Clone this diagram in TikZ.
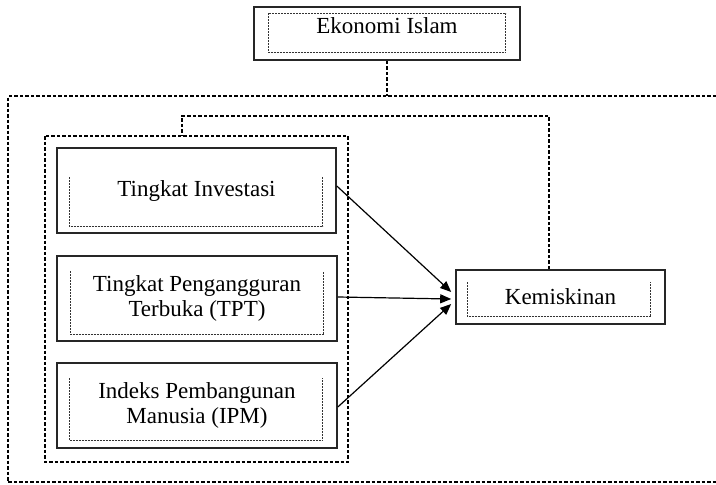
\documentclass[tikz,border=0pt]{standalone}
\usepackage{fontspec}
\setmainfont{Liberation Serif}
\usetikzlibrary{arrows.meta,calc}
\tikzset{
  solidbox/.style={draw=black!85,line width=1.6pt,rectangle,inner sep=0pt,align=center,font=\fontsize{23}{25.5}\selectfont},
  txt/.style={inner sep=0pt,font=\fontsize{23}{25.5}\selectfont},
  innerdash/.style={draw=black!80,line width=0.9pt,dash pattern=on 2pt off 1pt},
  groupdash/.style={draw=black,line width=1.4pt,dash pattern=on 3.5pt off 2pt},
  arr/.style={draw=black,line width=1.2pt,-{Triangle[length=11pt,width=9pt]}}
}
\begin{document}
\begin{tikzpicture}[x=1pt,y=-1pt]
\useasboundingbox (0,0) rectangle (716,485);
% boxes
\node[solidbox,minimum width=266pt,minimum height=53pt] (eko) at (387,33.5) {};
\node[txt,anchor=base] (ekot) at (387,33) {Ekonomi Islam};
\node[solidbox,minimum width=279pt,minimum height=85pt] (inv) at (196.5,190.5) {Tingkat Investasi};
\node[solidbox,minimum width=280pt,minimum height=85pt] (tpt) at (197,298.5) {Tingkat Pengangguran\\Terbuka (TPT)};
\node[solidbox,minimum width=280pt,minimum height=85pt] (ipm) at (197,405.5) {Indeks Pembangunan\\Manusia (IPM)};
\node[solidbox,minimum width=209pt,minimum height=54pt] (kem) at (560.5,297) {Kemiskinan};
% inner dashed frames
\draw[innerdash] ($(eko.north west)+(15,7)$) rectangle ($(eko.south east)+(-15,-8)$);
\draw[innerdash] ($(inv.north west)+(13,30)$) |- ($(inv.south east)+(-14,-7)$) -- ($(inv.north east)+(-14,30)$);
\draw[innerdash] ($(tpt.north west)+(14,16)$) |- ($(tpt.south east)+(-14,-7)$) -- ($(tpt.north east)+(-14,16)$);
\draw[innerdash] ($(ipm.north west)+(13,16)$) |- ($(ipm.south east)+(-15,-8)$) -- ($(ipm.north east)+(-15,16)$);
\draw[innerdash] ($(kem.north west)+(12,13)$) |- ($(kem.south east)+(-15,-8)$) -- ($(kem.north east)+(-15,13)$);
% group frames
\draw[groupdash] (45,136) rectangle (348,462);
\coordinate (gtop) at (182,136);
\coordinate (otop) at (387,96);
\draw[groupdash] (716,96) -- (8,96) -- (8,482) -- (716,482);
\draw[groupdash] (eko.south) -- (otop);
\draw[groupdash] (kem.north -| 549,0) |- (182,116) -- (gtop);
% arrows
\draw[arr] (inv.east |- 0,186) -- ($(kem.west)+(-4,-5)$);
\draw[arr] (tpt.east |- 0,297) -- ($(kem.west)+(-4,2)$);
\draw[arr] (ipm.east |- 0,407) -- ($(kem.west)+(-4,7)$);
\end{tikzpicture}
\end{document}
